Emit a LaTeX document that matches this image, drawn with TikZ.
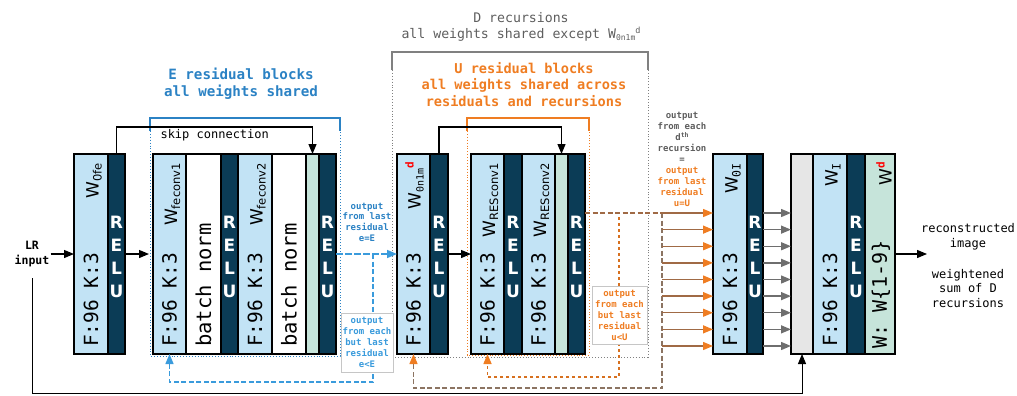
\documentclass[tikz,border=0pt]{standalone}
\usepackage{fontspec}
\setmainfont{DejaVu Sans Mono}
\newfontfamily\wfont{DejaVu Sans}
\usetikzlibrary{arrows.meta,calc}
\definecolor{lblue}{HTML}{C2E3F5}
\definecolor{dblue}{HTML}{0B3C56}
\definecolor{mint}{HTML}{C6E4DA}
\definecolor{lgray}{HTML}{E6E6E6}
\definecolor{eblue}{HTML}{2B82C4}
\definecolor{ablue}{HTML}{3A9BDC}
\definecolor{uorange}{HTML}{EF7D22}
\definecolor{dgray}{HTML}{6E6E6E}
\definecolor{tgray}{HTML}{5E5E5E}
\definecolor{brn}{HTML}{A06A45}
\definecolor{fbgray}{HTML}{8C7462}
\newcommand{\fsz}[2]{\fontsize{#1}{#2}\selectfont}
\newcommand{\Wl}[1]{{\wfont\fsz{17}{17}W}\raisebox{-3pt}{\wfont\fsz{11.5}{11.5}#1}}
\begin{document}
\begin{tikzpicture}[x=1pt,y=-1pt,
  col/.style={draw=black, line width=1.2pt, minimum height=200pt, inner sep=0pt, outer sep=0pt, anchor=north west},
  lb/.style={col, fill=lblue},
  dk/.style={col, fill=dblue},
  mn/.style={col, fill=mint},
  wh/.style={col, fill=white},
  gr/.style={col, fill=lgray},
  ftext/.style={rotate=90, anchor=west, inner sep=0pt, font=\fsz{19.5}{19.5}},
  bntext/.style={rotate=90, anchor=west, inner sep=0pt, font=\fsz{20.5}{20.5}},
  wlab/.style={rotate=90, anchor=east, inner sep=0pt},
  relu/.style={text=white, align=center, inner sep=0pt, font=\wfont\bfseries\fsz{17}{23}},
  tip/.style={-{Triangle[length=10pt,width=8pt]}},
  arr/.style={tip, line width=1.2pt, black},
  smalllab/.style={align=center, font=\bfseries\fsz{9}{11}, inner sep=1pt},
]
\useasboundingbox (0,0) rectangle (1017,396);

% ---------- group brackets ----------
\draw[eblue, line width=1.3pt] (150,131) -- (150,118) -- (340,118) -- (340,131);
\draw[eblue, dotted, line width=0.9pt] (150,131) -- (150,356) -- (340,356) -- (340,131);
\draw[gray, line width=1.3pt] (392,70) -- (392,52) -- (648,52) -- (648,70);
\draw[gray, dotted, line width=0.9pt] (392,70) -- (392,357) -- (648,357) -- (648,70);
\draw[uorange, line width=1.3pt] (467,131) -- (467,118) -- (589,118) -- (589,131);
\draw[uorange, dotted, line width=0.9pt] (467,131) -- (467,355) -- (589,355) -- (589,131);

% ---------- titles ----------
\node[text=eblue, font=\bfseries\fsz{14.2}{17}, align=center] (etitle) at (241,83.5) {E residual blocks\\all weights shared};
\node[text=tgray, font=\fsz{13.2}{16}, align=center] (dtitle) at (521,27) {D recursions\\all weights shared except W\raisebox{-2pt}{\fsz{8}{8}0n1m}\raisebox{5pt}{\fsz{8.5}{8.5}d}};
\node[text=uorange, font=\bfseries\fsz{13.6}{16.5}, align=center] (utitle) at (524,84.5) {U residual blocks\\all weights shared across\\residuals and recursions};

% ---------- first conv ----------
\node[lb, minimum width=34pt] (a1) at (74,154) {};
\node[dk, minimum width=17pt] (ra) at (108,154) {};

% ---------- E block ----------
\node[lb, minimum width=33pt] (e1) at (153,154) {};
\node[wh, minimum width=35pt] (bn1) at (186,154) {};
\node[dk, minimum width=17pt] (er1) at (221,154) {};
\node[lb, minimum width=34pt] (e2) at (238,154) {};
\node[wh, minimum width=34pt] (bn2) at (272,154) {};
\node[mn, minimum width=13pt] (em) at (306,154) {};
\node[dk, minimum width=17pt] (er2) at (319,154) {};

% ---------- W0n1m ----------
\node[lb, minimum width=33pt] (wc) at (397,154) {};
\node[dk, minimum width=18pt] (wr) at (430,154) {};

% ---------- U block ----------
\node[lb, minimum width=33pt] (u1) at (471,154) {};
\node[dk, minimum width=18pt] (ur1) at (504,154) {};
\node[lb, minimum width=33pt] (u2) at (522,154) {};
\node[mn, minimum width=13pt] (um) at (555,154) {};
\node[dk, minimum width=17pt] (ur2) at (568,154) {};

% ---------- W0I ----------
\node[lb, minimum width=34pt] (wo) at (713,154) {};
\node[dk, minimum width=16pt] (wor) at (747,154) {};

% ---------- final ----------
\node[gr, minimum width=22pt] (g) at (791,154) {};
\node[lb, minimum width=34pt] (fl) at (813,154) {};
\node[dk, minimum width=18pt] (fr) at (847,154) {};
\node[mn, minimum width=30pt] (fm) at (865,154) {};

% ---------- column texts ----------
\foreach \c in {a1,e1,e2,wc,u1,u2,wo,fl}{
  \node[ftext] at ($(\c.south)+(0,-7)$) {F:96 K:3};
}
\foreach \c in {bn1,bn2}{
  \node[bntext] at ($(\c.south)+(0,-7)$) {batch norm};
}
\foreach \c in {ra,er1,er2,wr,ur1,ur2,wor,fr}{
  \node[relu] at ($(\c.center)+(0,3)$) {R\\E\\L\\U};
}
\node[wlab] at ($(a1.north)+(3,9)$) {\Wl{0fe}};
\node[wlab] at ($(e1.north)+(3,9)$) {\Wl{feconv1}};
\node[wlab] at ($(e2.north)+(3,9)$) {\Wl{feconv2}};
\node[wlab] at ($(wc.north)+(1,8)$) {{\wfont\fsz{17}{17}W}\raisebox{-3pt}{\fsz{10}{10}0n1m}\raisebox{7pt}{\color{red}\bfseries\fsz{11}{11}d}};
\node[wlab] at ($(u1.north)+(3,9)$) {\Wl{RESconv1}};
\node[wlab] at ($(u2.north)+(3,9)$) {\Wl{RESconv2}};
\node[wlab] at ($(wo.north)+(3,9)$) {{\wfont\fsz{17}{17}W}\raisebox{-3pt}{\fsz{11.5}{11.5}0I}};
\node[wlab] at ($(fl.north)+(3,9)$) {{\wfont\fsz{17}{17}W}\raisebox{-3pt}{\fsz{11.5}{11.5}I}};
\node[wlab] at ($(fm.north)+(4,8)$) {{\wfont\fsz{17}{17}W}\raisebox{7pt}{\color{red}\bfseries\fsz{11}{11}d}};
\node[rotate=90, anchor=west, inner sep=0pt, font=\fsz{20}{20}] at ($(fm.south)+(1,-5)$) {W: W\{1-9\}};

% ---------- input ----------
\node[font=\bfseries\fsz{11.5}{15}, align=center, inner sep=1pt] (lr) at (32,254) {LR\\input};
\draw[arr] (lr.east) -- (lr.east -| a1.west);
\coordinate (ein) at (149,254);
\draw[arr] (ra.east) -- (ra.east -| ein);

% ---------- skip connections ----------
\draw[arr] (ra.north) -- ++(0,-27) -| (em.north);
\node[anchor=west, font=\fsz{12}{12}] (skip) at (157,135) {skip connection};
\draw[arr] (wr.north) -- ++(0,-27) -| (um.north);

% ---------- E -> W0n1m ----------
\draw[ablue, line width=1.5pt, dash pattern=on 7pt off 2pt, -{Triangle[length=10pt,width=8pt]}] (er2.east) -- (er2.east -| wc.west);
\node[smalllab, text=eblue, font=\bfseries\fsz{9}{10.7}] (elast) at (367,222) {output\\from last\\residual\\e=E};
\draw[arr] (wr.east) -- (wr.east -| u1.west);

% ---------- blue feedback ----------
\coordinate (bf1) at (373,254);
\coordinate (bf2) at (373,382);
\draw[ablue, line width=1.4pt, dash pattern=on 5pt off 2.5pt, -{Triangle[length=10pt,width=8pt]}] (bf1) -- (bf2) -| (e1.south);
\node[smalllab, draw=gray!45, fill=white, text=ablue, minimum width=52pt, minimum height=59pt] (ebox) at (367,342.5) {output\\from each\\but last\\residual\\e<E};

% ---------- outputs of U ----------
\coordinate (split) at (662,213);
\coordinate (fbc) at (662,388);
\draw[fbgray, line width=1.4pt, dash pattern=on 5pt off 2.5pt, -{Triangle[length=10pt,width=8pt,color=uorange]}] (split) -- (fbc) -| (wc.south);
\draw[brn, line width=1.4pt, dash pattern=on 5pt off 2.5pt] (ur2.east |- split) -- (split);
\coordinate (of1) at (619,217);
\coordinate (of2) at (619,377);
\draw[uorange!90!black, line width=1.5pt, dash pattern=on 3pt off 3pt, -{Triangle[length=10pt,width=8pt,color=uorange]}] (of1) -- (of2) -| (u1.south);
\node[smalllab, draw=gray!45, fill=white, text=uorange, minimum width=55pt, minimum height=58pt] (ubox) at (619.5,315) {output\\from each\\but last\\residual\\u<U};

\foreach \i in {0,...,8}{
  \coordinate (o\i) at (662,213+16.625*\i);
  \draw[brn, line width=1.4pt, -{Triangle[length=10pt,width=8pt,color=uorange]}] (o\i) -- (o\i -| wo.west);
  \draw[dgray, line width=1.4pt, -{Triangle[length=10pt,width=8pt]}] (o\i -| wor.east) -- (o\i -| g.west);
}
\node[smalllab] (dlab) at (682,159) {\textcolor{tgray}{output}\\\textcolor{tgray}{from each}\\\textcolor{tgray}{d\raisebox{3pt}{\fsz{6.5}{6.5}th}}\\\textcolor{tgray}{recursion}\\\textcolor{tgray}{=}\\\textcolor{uorange}{output}\\\textcolor{uorange}{from last}\\\textcolor{uorange}{residual}\\\textcolor{uorange}{u=U}};

% ---------- long skip from input ----------
\coordinate (lrb) at (32,393);
\draw[arr, line width=1pt] ([yshift=-10pt]lr.south) -- (lrb) -| (g.south);

% ---------- output ----------
\coordinate (out) at (927,254);
\draw[arr] (fm.east) -- (fm.east -| out);
\node[font=\fsz{12}{15}, align=center] (rec) at (968,236.5) {reconstructed\\image};
\node[font=\fsz{12}{14.5}, align=center] (wsum) at (968,288.5) {weightened\\sum of D\\recursions};
\end{tikzpicture}
\end{document}
